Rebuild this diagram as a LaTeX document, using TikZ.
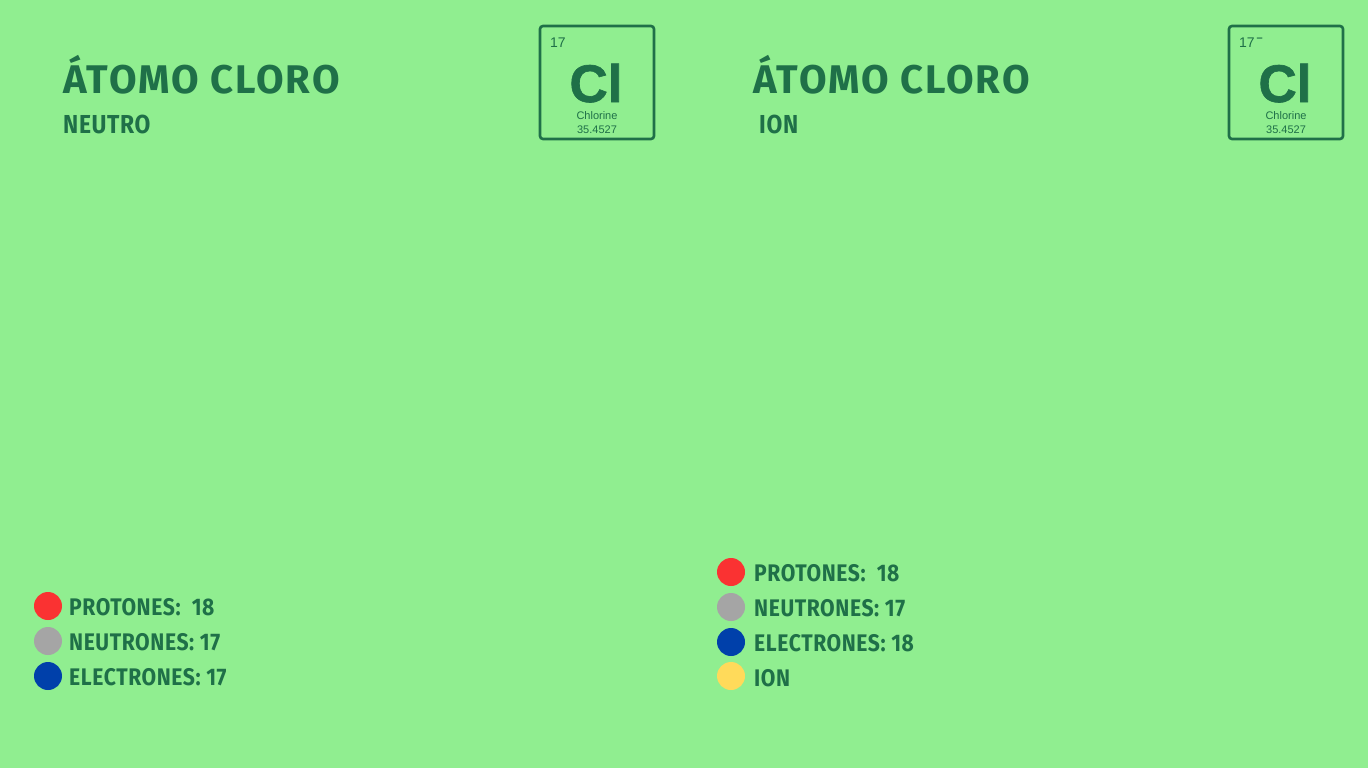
\documentclass[tikz,border=0pt]{standalone}
\usepackage{fontspec}
\usepackage{tikz}
\usetikzlibrary{positioning}
\setmainfont{Fira Sans}
\newfontfamily\headfont[LetterSpace=5]{Fira Sans}
\newfontfamily\labelfont[FakeStretch=0.88, LetterSpace=2.5]{Fira Sans}
\newfontfamily\elemfont{Liberation Sans}
\newfontfamily\symfont[UprightFont={* Bold}, FakeBold=1.2]{Liberation Sans}
\definecolor{cBack}{RGB}{144,238,144}
\definecolor{cText}{RGB}{31,112,72}
\definecolor{cProton}{RGB}{250,50,50}
\definecolor{cNeutron}{RGB}{165,165,165}
\definecolor{cElectron}{RGB}{0,64,170}
\definecolor{cIon}{RGB}{255,218,90}
\tikzset{
	title/.style   ={anchor=base west, inner sep=0pt, text=cText, font=\headfont\bfseries\fontsize{40}{46}\selectfont},
	subtitle/.style={anchor=base west, inner sep=0pt, text=cText, font=\labelfont\bfseries\fontsize{26}{30}\selectfont},
	legend/.style  ={anchor=base west, inner sep=0pt, text=cText, font=\labelfont\bfseries\fontsize{24}{28}\selectfont},
	dot/.style     ={circle, minimum size=28pt, inner sep=0pt},
	elembox/.style ={draw=cText, line width=2.6pt, rounded corners=3pt, minimum width=114pt, minimum height=113pt},
	elemnum/.style ={anchor=base west, inner sep=0pt, text=cText, font=\elemfont\fontsize{14}{16}\selectfont},
	elemsym/.style ={anchor=base, inner sep=0pt, text=cText, font=\symfont\fontsize{53}{56}\selectfont},
	elemsmall/.style={anchor=base, inner sep=0pt, text=cText, font=\elemfont\fontsize{11}{13}\selectfont},
}
\begin{document}
\begin{tikzpicture}[x=1pt, y=-1pt]
	\fill[cBack] (0,0) rectangle (1368,768);
	\useasboundingbox (0,0) rectangle (1368,768);
	% neutral atom
	\node[title] (tneutro) at (63,93) {ÁTOMO CLORO};
	\node[subtitle] (sneutro) at (63,133) {NEUTRO};
	\node[elembox] (bneutro) at (597,82.5) {};
	\node[elemnum] (nneutro) at (550,48) {17};
	\node[elemsym] (clneutro) at (596,102) {Cl};
	\node[elemsmall] (chneutro) at (597,119.5) {Chlorine};
	\node[elemsmall] (mneutro) at (597,133) {35.4527};
	\node[dot, fill=cProton] (pdot1) at (48,606) {};
	\node[dot, fill=cNeutron] (ndot1) at (48,641) {};
	\node[dot, fill=cElectron] (edot1) at (48,676) {};
	\node[legend] (plab1) at (69,615) {PROTONES:\ \ 18};
	\node[legend] (nlab1) at (69,650) {NEUTRONES: 17};
	\node[legend] (elab1) at (69,685) {ELECTRONES: 17};
	% ion
	\node[title] (tion) at (753,93) {ÁTOMO CLORO};
	\node[subtitle] (sion) at (759,133) {ION};
	\node[elembox] (bion) at (1286,82.5) {};
	\node[elemnum] (nion) at (1239,48) {17\raisebox{6pt}{\bfseries\fontsize{11}{11}\selectfont\,–}};
	\node[elemsym] (clion) at (1285,102) {Cl};
	\node[elemsmall] (chion) at (1286,119.5) {Chlorine};
	\node[elemsmall] (mion) at (1286,133) {35.4527};
	\node[dot, fill=cProton] (pdot2) at (731,572) {};
	\node[dot, fill=cNeutron] (ndot2) at (731,607) {};
	\node[dot, fill=cElectron] (edot2) at (731,642) {};
	\node[dot, fill=cIon] (idot2) at (731,676) {};
	\node[legend] (plab2) at (754,581) {PROTONES:\ \ 18};
	\node[legend] (nlab2) at (754,616) {NEUTRONES: 17};
	\node[legend] (elab2) at (754,651) {ELECTRONES: 18};
	\node[legend] (ilab2) at (754,686) {ION};
\end{tikzpicture}
\end{document}
